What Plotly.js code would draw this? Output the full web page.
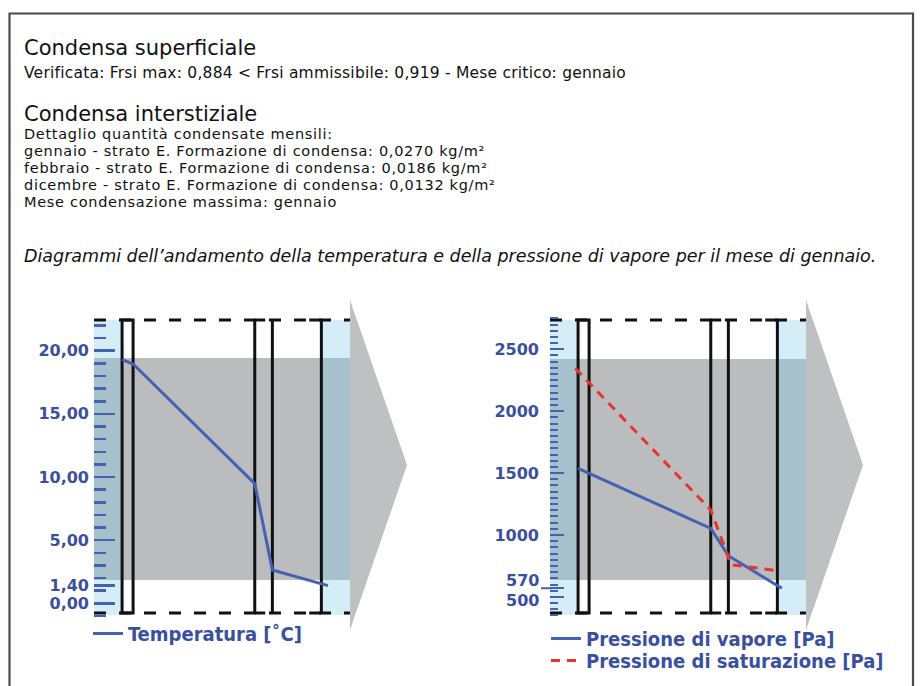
<!DOCTYPE html>
<html><head><meta charset="utf-8">
<script src="https://cdn.plot.ly/plotly-3.0.1.min.js"></script>
<style>html,body{margin:0;padding:0;background:#fff}#chart{width:920px;height:686px}</style>
</head><body><div id="chart"></div>
<script>
// ---------- data ----------
const tempX = [0, 2, 24.1, 27.3, 37.4];
const tempY = [19.3, 18.95, 9.48, 2.64, 1.4];
const vapX = [0, 2, 24.1, 27.3, 37.0];
const vapY = [1539, 1497, 1054, 833, 570];
const satX = [-0.5, 24.1, 27.8, 36.2];
const satY = [2346, 1202, 760, 712];
const layerBounds = [0, 2, 24.1, 27.3, 36.2];
const tempTicks = [0, 1.4, 5, 10, 15, 20];
const tempTickText = ['0,00', '1,40', '5,00', '10,00', '15,00', '20,00'];
const presTicks = [500, 570, 1000, 1500, 2000, 2500];
const presTickText = ['', '', '1000', '1500', '2000', '2500'];
const presLowLabels = ['570', '500'];
const presLowValues = [570, 500];
const tempBand = [1.84, 19.42];
const presBand = [637, 2422];
const headings = ['Condensa superficiale', 'Condensa interstiziale'];
const supLines = ['Verificata: Frsi max: 0,884 < Frsi ammissibile: 0,919 - Mese critico: gennaio'];
const intLines = [
  'Dettaglio quantità condensate mensili:',
  'gennaio - strato E. Formazione di condensa: 0,0270 kg/m²',
  'febbraio - strato E. Formazione di condensa: 0,0186 kg/m²',
  'dicembre - strato E. Formazione di condensa: 0,0132 kg/m²',
  'Mese condensazione massima: gennaio'
];
const caption = 'Diagrammi dell\u2019andamento della temperatura e della pressione di vapore per il mese di gennaio.';
const seriesNames = ['Temperatura [˚C]', 'Pressione di vapore [Pa]', 'Pressione di saturazione [Pa]'];

// ---------- layout helpers ----------
const W = 920, H = 686;
const px = v => v / W;
const py = v => 1 - v / H;
const XR = [-5.1, 41.4];
const BLUE = '#4461b3', RED = '#e8342c', LBL = '#3a4f9f';
const DOM_T = 316, DOM_B = 619;          // plot area, pixels
const TOP = 320, BOT = 613, BAND_B = 615; // wall outline, pixels
const yRangeT = [-1.24, 22.75];
const yRangeP = [321.5, 2769];

function wallShapes(xr, yr, yRange, bandRange, arrowBase) {
  const yv = p => yRange[1] - (p - DOM_T) / (DOM_B - DOM_T) * (yRange[1] - yRange[0]);
  const s = [];
  const base = {layer: 'below', xref: xr, yref: yr};
  s.push(Object.assign({type: 'rect', x0: XR[0], x1: XR[1], y0: bandRange[0], y1: bandRange[1],
          fillcolor: '#babcbe', line: {width: 0}}, base));
  [[XR[0], layerBounds[0]], [layerBounds[4], XR[1]]].forEach(b => s.push(Object.assign({
    type: 'rect', x0: b[0], x1: b[1], y0: yv(BAND_B), y1: yv(TOP),
    fillcolor: 'rgba(129,201,231,0.34)', line: {width: 0}}, base)));
  const blk = {color: '#111', width: 3};
  [TOP, BOT].forEach(y => s.push(Object.assign({type: 'line', x0: XR[0], x1: XR[1],
    y0: yv(y), y1: yv(y), line: {color: '#111', width: 3, dash: '12px,13px'}}, base)));
  s.push(Object.assign({type: 'rect', x0: layerBounds[0], x1: layerBounds[1],
    y0: yv(BOT), y1: yv(TOP), line: blk, fillcolor: 'rgba(0,0,0,0)'}, base));
  [layerBounds[2], layerBounds[3], layerBounds[4]].forEach(x => s.push(Object.assign({type: 'line',
    x0: x, x1: x, y0: yv(BOT), y1: yv(TOP), line: blk}, base)));
  [TOP, BOT].forEach(y => {
    s.push(Object.assign({type: 'line', x0: layerBounds[2], x1: layerBounds[2] + 1.9, y0: yv(y), y1: yv(y), line: blk}, base));
    s.push(Object.assign({type: 'line', x0: layerBounds[4] - 2.2, x1: layerBounds[4], y0: yv(y), y1: yv(y), line: blk}, base));
  });
  s.push({type: 'path', layer: 'below', xref: 'paper', yref: 'paper',
          path: `M${px(arrowBase)},${py(300)} L${px(arrowBase + 57)},${py(465)} L${px(arrowBase)},${py(630)} Z`,
          fillcolor: '#bfc0c2', line: {width: 0}});
  return s;
}

const shapes = [].concat(
  wallShapes('x', 'y', yRangeT, tempBand, 350),
  wallShapes('x2', 'y2', yRangeP, presBand, 806),
  [{type: 'line', xref: 'paper', yref: 'y2', x0: px(541), x1: px(552), y0: presLowValues[0], y1: presLowValues[0],
    line: {color: BLUE, width: 2}},
   {type: 'rect', xref: 'paper', yref: 'paper', x0: px(9.5), x1: px(913), y0: py(700), y1: py(13.5),
    line: {color: '#4a4a4a', width: 2.2}, fillcolor: 'rgba(0,0,0,0)'}]
);

const annotations = [];
const TXT = 'DejaVu Sans';
function txt(t, x, yc, size, opts) {
  annotations.push(Object.assign({text: t, xref: 'paper', yref: 'paper', x: px(x), y: py(yc), xanchor: 'left', yanchor: 'middle',
    showarrow: false, borderpad: 0, font: {family: TXT, size: size, color: '#111'}}, opts || {}));
}
const spaced = (t, ls) => `<span style="letter-spacing:${ls}px">${t.replace(/</g, '&lt;')}</span>`;
txt(headings[0], 23, 48, 21);
txt(spaced(supLines[0], 0.22), 23, 73, 15.5);
txt(headings[1], 23, 114, 21);
intLines.forEach((l, i) => txt(spaced(l, 0.7), 23, 134 + i * 17, 14.5));
txt(caption, 23, 256, 17.5, {font: {family: TXT, size: 17.5, color: '#111', style: 'italic'}});

const tickFont = {family: 'DejaVu Sans', size: 16, color: LBL, weight: 'bold'};
presLowLabels.forEach((t, i) => annotations.push({text: t, xref: 'paper', yref: 'y2', x: px(541), y: presLowValues[i],
  xanchor: 'right', yanchor: 'middle', yshift: i === 0 ? 8 : -4, showarrow: false, font: tickFont}));

const axisHidden = {range: XR, showgrid: false, zeroline: false, showline: false, showticklabels: false, ticks: '', fixedrange: true};
const yCommon = {showgrid: false, zeroline: false, showline: false, ticks: 'inside', tickmode: 'array',
  tickfont: tickFont, fixedrange: true};

const data = [
  {x: tempX, y: tempY, xaxis: 'x', yaxis: 'y', type: 'scatter', mode: 'lines', name: seriesNames[0],
   line: {color: BLUE, width: 3}, legend: 'legend'},
  {x: vapX, y: vapY, xaxis: 'x2', yaxis: 'y2', type: 'scatter', mode: 'lines', name: seriesNames[1],
   line: {color: BLUE, width: 3}, legend: 'legend2'},
  {x: satX, y: satY, xaxis: 'x2', yaxis: 'y2', type: 'scatter', mode: 'lines', name: seriesNames[2],
   line: {color: RED, width: 3, dash: '9px,7px'}, legend: 'legend3'}
];

const legFont = {family: 'DejaVu Sans Condensed, DejaVu Sans', size: 20, color: LBL, weight: 'bold'};
const legBase = {xanchor: 'left', yanchor: 'top', bgcolor: 'rgba(0,0,0,0)', font: legFont, itemwidth: 30, tracegroupgap: 0};
const layout = {
  width: W, height: H, margin: {l: 0, r: 0, t: 0, b: 0},
  paper_bgcolor: '#fff', plot_bgcolor: 'rgba(0,0,0,0)',
  showlegend: true,
  xaxis: Object.assign({domain: [px(94), px(350)], anchor: 'y'}, axisHidden),
  yaxis: Object.assign({domain: [py(DOM_B), py(DOM_T)], anchor: 'x', range: yRangeT,
    tickvals: tempTicks, ticktext: tempTickText, ticklen: 21, tickwidth: 2.5, tickcolor: BLUE, ticklabelstandoff: 4,
    minor: {tickmode: 'linear', tick0: 0, dtick: 1, ticks: 'inside', ticklen: 12, tickwidth: 2.5, tickcolor: BLUE, showgrid: false}}, yCommon),
  xaxis2: Object.assign({domain: [px(550), px(806)], anchor: 'y2'}, axisHidden),
  yaxis2: Object.assign({domain: [py(DOM_B), py(DOM_T)], anchor: 'x2', range: yRangeP,
    tickvals: presTicks, ticktext: presTickText, ticklen: 14, tickwidth: 2, tickcolor: BLUE, ticklabelstandoff: 10,
    minor: {tickmode: 'linear', tick0: 0, dtick: 50, ticks: 'inside', ticklen: 8, tickwidth: 2, tickcolor: BLUE, showgrid: false}}, yCommon),
  legend: Object.assign({x: px(88), y: py(614)}, legBase),
  legend2: Object.assign({x: px(546), y: py(619)}, legBase),
  legend3: Object.assign({x: px(546), y: py(641)}, legBase),
  shapes: shapes,
  annotations: annotations
};

Plotly.newPlot('chart', data, layout, {displayModeBar: false, staticPlot: true});
</script>
</body></html>
